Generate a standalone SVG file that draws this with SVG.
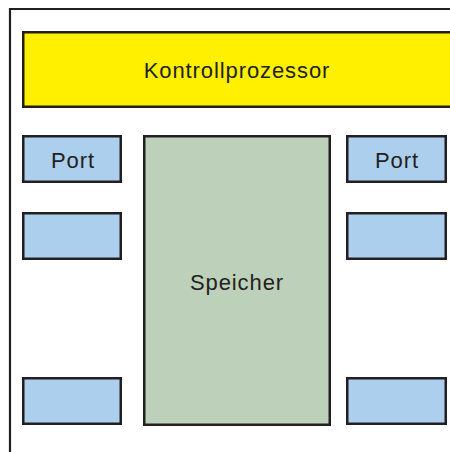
<svg xmlns="http://www.w3.org/2000/svg" width="450" height="452" viewBox="0 0 450 452">
<style>
.box{stroke:#231f20;stroke-width:2.5}
.port{fill:#abcfec}
.lbl{font-family:"Liberation Sans",Arial,sans-serif;font-size:22px;fill:#231f20;text-anchor:middle;letter-spacing:0.9px}
</style>
<rect width="450" height="452" fill="#ffffff"/>
<g id="frame">
<path d="M10 460 V9 H460" fill="none" stroke="#231f20" stroke-width="2.2"/>
</g>
<g id="kontrollprozessor">
<rect class="box" x="23.25" y="32.25" width="440" height="74.5" fill="#fff000"/>
<text class="lbl" x="237" y="78">Kontrollprozessor</text>
</g>
<g id="speicher">
<rect class="box" x="144.25" y="136.25" width="185.5" height="288.5" fill="#bdd0b9"/>
<text class="lbl" x="237" y="290">Speicher</text>
</g>
<g id="port-left-1">
<rect class="box port" x="23.25" y="136.25" width="97.5" height="45.5"/>
<text class="lbl" x="73" y="168">Port</text>
</g>
<g id="port-left-2">
<rect class="box port" x="23.25" y="213.25" width="97.5" height="45.5"/>
</g>
<g id="port-left-3">
<rect class="box port" x="23.25" y="378.25" width="97.5" height="45.5"/>
</g>
<g id="port-right-1">
<rect class="box port" x="347.25" y="136.25" width="98.5" height="45.5"/>
<text class="lbl" x="397" y="168">Port</text>
</g>
<g id="port-right-2">
<rect class="box port" x="347.25" y="213.25" width="98.5" height="45.5"/>
</g>
<g id="port-right-3">
<rect class="box port" x="347.25" y="378.25" width="98.5" height="45.5"/>
</g>
<g id="connectors"></g>
</svg>
